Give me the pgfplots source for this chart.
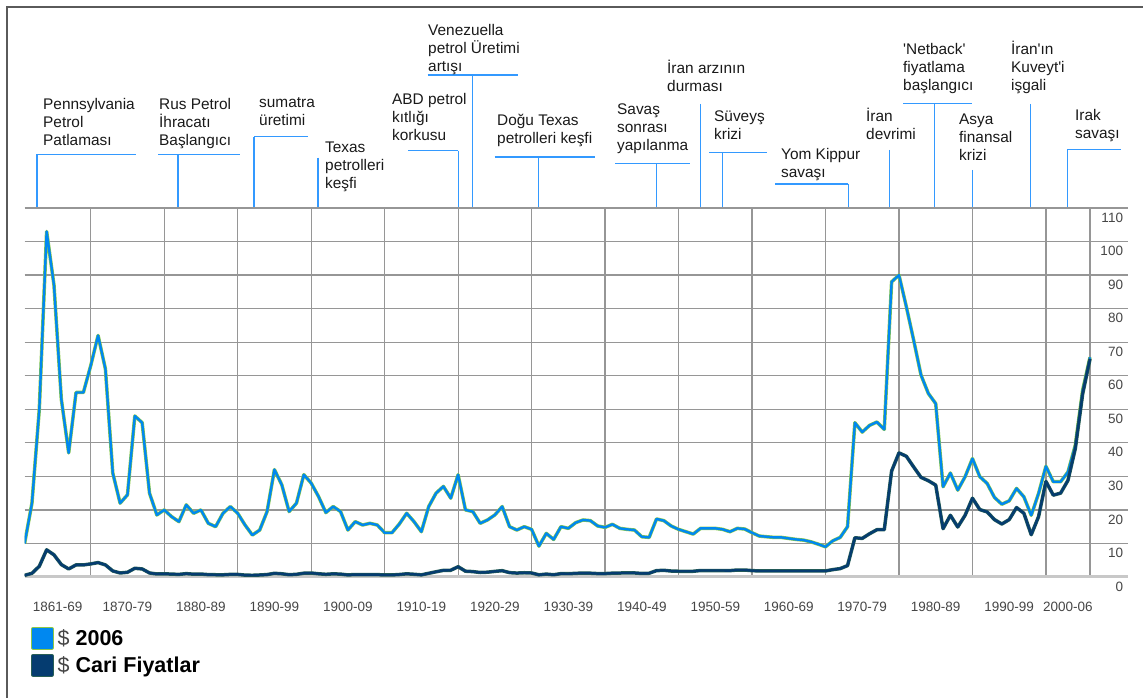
\documentclass[border=0pt]{standalone}
\usepackage{fontspec}
\setmainfont{Liberation Sans}
\usepackage{pgfplots}
\usepackage{pgfplotstable}
\pgfplotsset{compat=1.18}

\definecolor{cnew}{RGB}{0,136,240}
\definecolor{cnewedge}{RGB}{140,200,70}
\definecolor{ccur}{RGB}{5,60,112}
\definecolor{ccuredge}{RGB}{40,95,85}
\definecolor{annblue}{RGB}{51,153,255}
\definecolor{gridc}{RGB}{150,150,150}
\definecolor{basec}{RGB}{200,200,200}
\definecolor{tickc}{RGB}{70,70,70}
\definecolor{framec}{RGB}{90,90,90}

\newcommand\annfont{\fontsize{15.4}{18}\selectfont}
% x, baseline of first line, lines
\newcommand\ann[3]{\foreach \t [count=\i from 0] in {#3}{%
  \node[anchor=base west, inner sep=0pt, font=\annfont, text=black!90] at (#1,{#2+18*\i}) {\t};}}

% year, price in 2006 dollars, price in current dollars
\pgfplotstableread{
year real nom
1861 10 0.5
1862 22 1.1
1863 50 3.2
1864 103 8.1
1865 87 6.6
1866 53 3.7
1867 37 2.4
1868 55 3.6
1869 55 3.6
1870 63 3.9
1871 72 4.3
1872 62 3.6
1873 31 1.8
1874 22 1.2
1875 24.5 1.4
1876 48 2.6
1877 46 2.4
1878 25 1.2
1879 18.5 0.9
1880 20 0.95
1881 18 0.86
1882 16.5 0.78
1883 21.5 1.0
1884 19 0.84
1885 20 0.88
1886 16 0.71
1887 15 0.67
1888 19 0.65
1889 21 0.77
1890 19 0.77
1891 15.5 0.56
1892 12.5 0.51
1893 14 0.6
1894 19.5 0.72
1895 32 1.1
1896 27.5 0.96
1897 19.5 0.68
1898 22 0.8
1899 30.5 1.13
1900 28 1.19
1901 24 0.96
1902 19.2 0.8
1903 21 0.94
1904 19.5 0.86
1905 14 0.62
1906 16.5 0.73
1907 15.5 0.72
1908 16 0.72
1909 15.5 0.7
1910 13.2 0.61
1911 13.2 0.61
1912 15.8 0.74
1913 19 0.95
1914 16.5 0.81
1915 13.5 0.64
1916 21 1.1
1917 25 1.56
1918 27 1.98
1919 23.5 2.01
1920 30.5 3.07
1921 20 1.73
1922 19.5 1.61
1923 16 1.34
1924 17 1.43
1925 18.5 1.68
1926 21 1.88
1927 15 1.3
1928 14 1.17
1929 15 1.27
1930 14.2 1.19
1931 9.2 0.65
1932 13 0.87
1933 11.2 0.67
1934 15 1.0
1935 14.5 0.97
1936 16.2 1.09
1937 17 1.18
1938 16.8 1.13
1939 15.2 1.02
1940 14.8 1.02
1941 15.7 1.14
1942 14.5 1.19
1943 14.2 1.2
1944 14 1.21
1945 12 1.05
1946 11.8 1.12
1947 17.3 1.9
1948 16.8 1.99
1949 15.2 1.78
1950 14.2 1.71
1951 13.5 1.71
1952 12.8 1.71
1953 14.5 1.93
1954 14.5 1.93
1955 14.5 1.93
1956 14.2 1.93
1957 13.5 1.9
1958 14.5 2.08
1959 14.3 2.08
1960 13.2 1.9
1961 12.2 1.8
1962 12 1.8
1963 11.8 1.8
1964 11.8 1.8
1965 11.5 1.8
1966 11.2 1.8
1967 11 1.8
1968 10.5 1.8
1969 9.8 1.8
1970 9 1.8
1971 10.8 2.2
1972 11.8 2.5
1973 15 3.4
1974 46 11.7
1975 43.2 11.5
1976 45.2 12.9
1977 46.2 14.1
1978 44 14.1
1979 88 31.6
1980 90 37
1981 80.6 36
1982 70.6 32.8
1983 60.2 29.7
1984 54.7 28.7
1985 51.7 27.4
1986 26.9 14.4
1987 31 18.4
1988 25.9 14.9
1989 29.9 18.4
1990 35.3 23.5
1991 29.9 20.1
1992 27.9 19.4
1993 23.7 17.1
1994 21.7 15.8
1995 22.7 17.1
1996 26.4 20.7
1997 23.9 19
1998 18.4 12.6
1999 24.9 18
2000 33 28.5
2001 28.4 24.4
2002 28.4 25
2003 31.3 28.8
2004 39.3 38.3
2005 55.7 54.6
2006 65.5 65
}\prices

\begin{document}
\begin{tikzpicture}
% pixel frame of the reference picture: (0,0) top left, y downwards
\begin{scope}[shift={(-24.6pt,577pt)}, x=1pt, y=-1pt]
\path[use as bounding box] (0,0) rectangle (1143,698);
\draw[framec, line width=2pt] (7,700) -- (7,7) -- (1145,7);

\begin{scope}[annblue, line width=1.3pt]
\draw (37,154.5) -- (136,154.5) (37,154.5) -- (37,207);
\draw (158,154.5) -- (240,154.5) (178,154.5) -- (178,207);
\draw (254,136.7) -- (308,136.7) (254,136.7) -- (254,207);
\draw (318,157.7) -- (318,207);
\draw (408,150.7) -- (458.3,150.7) (458.3,150.7) -- (458.3,207);
\draw (427.7,75) -- (518.3,75) (472.7,75) -- (472.7,207);
\draw (494.7,157) -- (594.7,157) (538.7,157) -- (538.7,207);
\draw (615.3,163.3) -- (690,163.3) (656.7,163.3) -- (656.7,207);
\draw (700.7,104) -- (700.7,207);
\draw (709,152.3) -- (767.3,152.3) (722.7,152.3) -- (722.7,207);
\draw (775,184) -- (848.3,184) (848.3,184) -- (848.3,207);
\draw (889.3,150) -- (889.3,207);
\draw (903.3,103.3) -- (972,103.3) (934.3,103.3) -- (934.3,207);
\draw (972.3,170) -- (972.3,207);
\draw (1030.7,104) -- (1030.7,207);
\draw (1067.3,149.3) -- (1120.7,149.3) (1067.3,149.3) -- (1067.3,207);
\end{scope}

\ann{43}{109.3}{Pennsylvania,Petrol,Patlaması}
\ann{159}{109.3}{Rus Petrol,İhracatı,Başlangıcı}
\ann{259}{107.3}{sumatra,üretimi}
\ann{325}{152.7}{Texas,petrolleri,keşfi}
\ann{392}{105}{ABD petrol,kıtlığı,korkusu}
\ann{428}{36}{Venezuella,petrol Üretimi,artışı}
\ann{497}{126}{Doğu Texas,petrolleri keşfi}
\ann{617}{115}{Savaş,sonrası,yapılanma}
\ann{667}{73.3}{İran arzının,durması}
\ann{714}{121.7}{Süveyş,krizi}
\ann{781}{160}{Yom Kippur,savaşı}
\ann{866}{121.7}{İran,devrimi}
\ann{903}{54.3}{\textquotesingle Netback\textquotesingle,fiyatlama,başlangıcı}
\ann{959}{124.3}{Asya,finansal,krizi}
\ann{1011}{54.3}{İran\textquotesingle ın,Kuveyt\textquotesingle i,işgali}
\ann{1075}{120.7}{Irak,savaşı}
\end{scope}

\begin{axis}[
  at={(0,0)}, anchor=south west,
  scale only axis, width=1103.6pt, height=369pt,
  xmin=1861, xmax=2011.2, ymin=0, ymax=110,
  axis line style={draw=none},
  major tick length=0pt,
  /pgf/number format/assume math mode=true,
  xtick={1870,1880,...,2000,2006},
  xticklabels={},
  xmajorgrids, ymajorgrids,
  grid style={draw=gridc, line width=1.2pt},
  extra x ticks={1865.5,1875,1885,1895,1905,1915,1925,1935,1945,1955,1965,1975,1985,1995,2003},
  extra x tick labels={1861-69,1870-79,1880-89,1890-99,1900-09,1910-19,1920-29,1930-39,1940-49,1950-59,1960-69,1970-79,1980-89,1990-99,2000-06},
  extra x tick style={grid=none},
  xticklabel style={font=\fontsize{13.5}{15}\selectfont, text=tickc, anchor=north, inner sep=0pt, yshift=-25pt},
  ytick={10,20,...,110},
  extra y ticks={0},
  extra y tick style={grid style={draw=basec, line width=3pt}},
  yticklabel pos=right,
  yticklabel style={font=\fontsize{13.5}{15}\selectfont, text=tickc, anchor=east, inner sep=0pt, xshift=-5pt, yshift=-9.5pt},
  legend style={at={(0.0058,-0.135)}, anchor=north west, draw=none, fill=none,
    inner sep=0pt, row sep=4.5pt, font=\fontsize{21.5}{23}\selectfont},
  legend cell align=left,
]
\addplot[draw=cnewedge, double=cnew, line width=0.55pt, double distance=2.4pt, line join=round,
  legend image code/.code={\fill[cnewedge] (0pt,-9.5pt) rectangle (19pt,9.5pt);
    \fill[cnew] (0.8pt,-8.7pt) rectangle (18.2pt,8.7pt);
    \path (21pt,0pt);}]
  table[x=year, y=real] {\prices};
\addlegendentry{{\color{tickc}\$} \textbf{2006}}
\addplot[draw=ccuredge, double=ccur, line width=0.55pt, double distance=2.4pt, line join=round,
  legend image code/.code={\fill[ccuredge] (0pt,-9.5pt) rectangle (19pt,9.5pt);
    \fill[ccur] (0.8pt,-8.7pt) rectangle (18.2pt,8.7pt);
    \path (21pt,0pt);}]
  table[x=year, y=nom] {\prices};
\addlegendentry{{\color{tickc}\$} \textbf{Cari Fiyatlar}}
\end{axis}
\end{tikzpicture}
\end{document}
